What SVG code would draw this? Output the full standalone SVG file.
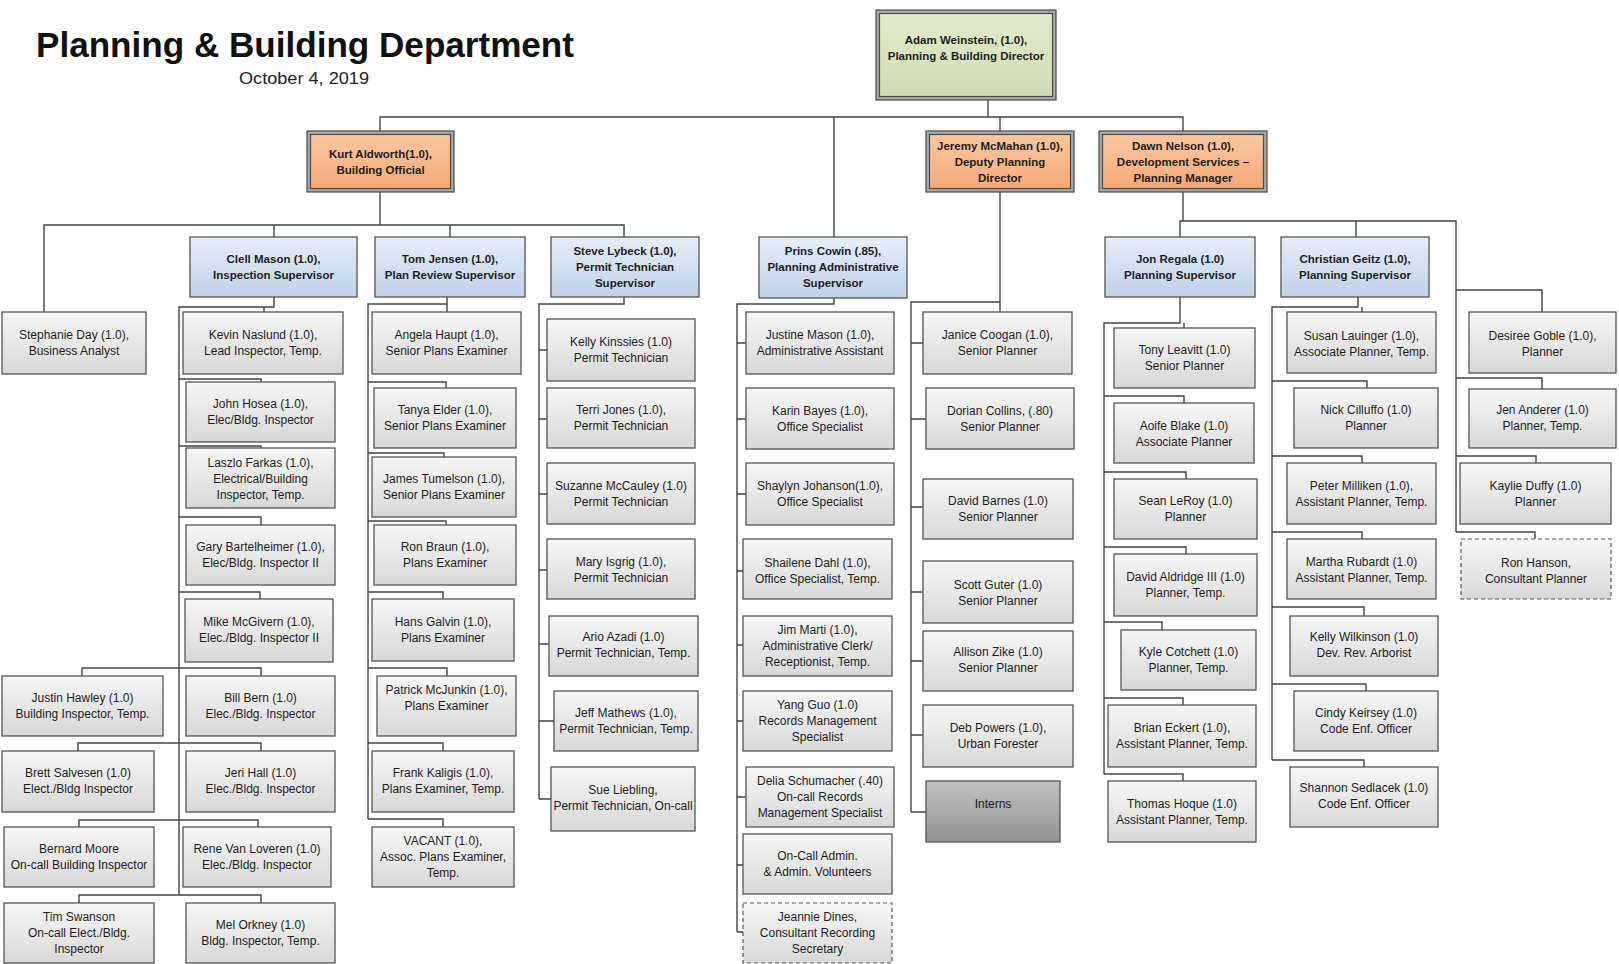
<svg xmlns="http://www.w3.org/2000/svg" width="1619" height="964" viewBox="0 0 1619 964">
  <defs>
    <linearGradient id="gGray" x1="0" y1="0" x2="0" y2="1">
      <stop offset="0" stop-color="#f6f6f6"/>
      <stop offset="1" stop-color="#d8d8d8"/>
    </linearGradient>
    <linearGradient id="gBlue" x1="0" y1="0" x2="0" y2="1">
      <stop offset="0" stop-color="#e6eef8"/>
      <stop offset="1" stop-color="#bfd2e8"/>
    </linearGradient>
    <linearGradient id="gOrange" x1="0" y1="0" x2="0" y2="1">
      <stop offset="0" stop-color="#fbc7a0"/>
      <stop offset="1" stop-color="#f5a978"/>
    </linearGradient>
    <linearGradient id="gGreen" x1="0" y1="0" x2="0" y2="1">
      <stop offset="0" stop-color="#e0eacb"/>
      <stop offset="1" stop-color="#d0ddb2"/>
    </linearGradient>
    <linearGradient id="gDark" x1="0" y1="0" x2="0" y2="1">
      <stop offset="0" stop-color="#c2c2c2"/>
      <stop offset="1" stop-color="#929292"/>
    </linearGradient>
  </defs>
  <style>
    .box { fill: url(#gGray); stroke: #555; stroke-width: 1.3; }
    .sup { fill: url(#gBlue); stroke: #555; stroke-width: 1.3; }
    .mgr { fill: url(#gOrange); stroke: #4a4a4a; stroke-width: 1.2; }
    .dir { fill: url(#gGreen); stroke: #4a4a4a; stroke-width: 1.2; }
    .ring { fill: #a9a9a9; stroke: #4a4a4a; stroke-width: 1.2; }
    .dash { fill: url(#gGray); stroke: #555; stroke-width: 1.2; stroke-dasharray: 4 3; }
    .dark { fill: url(#gDark); stroke: #555; stroke-width: 1.3; }
    .t { font-family: "Liberation Sans", Arial, sans-serif; font-size: 12px; fill: #1e1e1e; text-anchor: middle; }
    .tb { font-family: "Liberation Sans", Arial, sans-serif; font-size: 11.5px; font-weight: bold; fill: #1e1e1e; text-anchor: middle; }
    .title { font-family: "Liberation Sans", Arial, sans-serif; font-size: 35px; font-weight: bold; fill: #111; }
    .date { font-family: "Liberation Sans", Arial, sans-serif; font-size: 17px; fill: #222; }
    #connectors path { fill: none; stroke: #444; stroke-width: 1.4; }
  </style>

  <rect width="1619" height="964" fill="#ffffff"/>

  <!-- heading -->
  <g id="heading">
    <text class="title" x="36" y="57" textLength="538" lengthAdjust="spacingAndGlyphs">Planning &amp; Building Department</text>
    <text class="date" x="239" y="84" textLength="130" lengthAdjust="spacingAndGlyphs">October 4, 2019</text>
  </g>

  <!-- reporting lines -->
  <g id="connectors">
    <!-- director level -->
    <path d="M988,100 V117 M380,131 V117 H1183 V131 M1000,117 V131 M834,117 V237"/>
    <!-- building official -->
    <path d="M380,192 V225 M44,312 V225 H624 V237 M274,225 V237 M450,225 V237"/>
    <!-- inspection -->
    <path d="M274,297 V307 H179 V895 M264,307 V312
             M179,379 H261 V382 M179,446 H261 V448 M179,517 H261 V525 M179,592 H260 V599
             M82,676 V668 H261 V676 M78,751 V743 H261 V751 M79,827 V820 H258 V827 M79,903 V895 H261 V903"/>
    <!-- plan review -->
    <path d="M447,297 V312 M447,304 H368 V819
             M368,382 H446 V388 M368,453 H444 V457 M368,521 H446 V525 M368,592 H443 V599
             M368,668 H447 V676 M368,743 H443 V751 M368,819 H443 V827"/>
    <!-- permit technicians -->
    <path d="M624,297 V304 H539 V799
             M539,350 H547 M539,419 H547 M539,494 H547 M539,570 H547 M539,644 H549 M539,721 H554 M539,799 H551"/>
    <!-- planning administration -->
    <path d="M834,298 V304 H737 V932
             M737,343 H746 M737,419 H746 M737,494 H746 M737,571 H743 M737,645 H743 M737,721 H743 M737,797 H746 M737,865 H743 M737,932 H743"/>
    <!-- deputy planning director -->
    <path d="M1000,192 V312 M1000,302 H911 V812
             M911,343 H923 M911,419 H926 M911,507 H923 M911,592 H923 M911,661 H923 M911,735 H923 M911,812 H926"/>
    <!-- development services -->
    <path d="M1183,192 V221 M1180,237 V221 H1456 V532 M1356,221 V237"/>
    <!-- planning supervisor (Regala) -->
    <path d="M1180,297 V323 H1104 V774 M1184,323 V328
             M1104,396 H1184 V403 M1104,472 H1186 V479 M1104,547 H1186 V554 M1104,622 H1162 V630
             M1104,698 H1183 V705 M1104,774 H1183 V781"/>
    <!-- planning supervisor (Geitz) -->
    <path d="M1358,297 V307 H1272 V760 M1362,307 V312
             M1272,381 H1367 V388 M1272,456 H1362 V463 M1272,532 H1362 V539 M1272,607 H1364 V616
             M1272,684 H1366 V691 M1272,760 H1364 V767"/>
    <!-- planners reporting to manager -->
    <path d="M1456,290 H1542 V312 M1456,378 H1542 V389 M1456,456 H1536 V463 M1456,532 H1535 V539"/>
  </g>

  <!-- director -->
  <g id="adam-weinstein">
    <rect class="ring" x="876" y="10" width="180" height="90"/>
    <rect class="dir" x="879.5" y="13.5" width="173" height="83"/>
    <text class="tb" x="966" y="44">Adam Weinstein, (1.0),</text>
    <text class="tb" x="966" y="60">Planning &amp; Building Director</text>
  </g>

  <!-- managers -->
  <g id="kurt-aldworth">
    <rect class="ring" x="307" y="131" width="147" height="61"/>
    <rect class="mgr" x="310.5" y="134.5" width="140" height="54"/>
    <text class="tb" x="380.5" y="158">Kurt Aldworth(1.0),</text>
    <text class="tb" x="380.5" y="174">Building Official</text>
  </g>
  <g id="jeremy-mcmahan">
    <rect class="ring" x="926" y="131" width="148" height="61"/>
    <rect class="mgr" x="929.5" y="134.5" width="141" height="54"/>
    <text class="tb" x="1000" y="150">Jeremy McMahan (1.0),</text>
    <text class="tb" x="1000" y="166">Deputy Planning</text>
    <text class="tb" x="1000" y="182">Director</text>
  </g>
  <g id="dawn-nelson">
    <rect class="ring" x="1099" y="131" width="168" height="61"/>
    <rect class="mgr" x="1102.5" y="134.5" width="161" height="54"/>
    <text class="tb" x="1183" y="150">Dawn Nelson (1.0),</text>
    <text class="tb" x="1183" y="166">Development Services –</text>
    <text class="tb" x="1183" y="182">Planning Manager</text>
  </g>

  <!-- building division -->
  <g id="stephanie-day">
    <rect class="box" x="2" y="312" width="144" height="62"/>
    <text class="t" x="74" y="339">Stephanie Day (1.0),</text>
    <text class="t" x="74" y="355">Business Analyst</text>
  </g>
  <g id="clell-mason">
    <rect class="sup" x="190" y="237" width="167" height="60"/>
    <text class="tb" x="273.5" y="263">Clell Mason (1.0),</text>
    <text class="tb" x="273.5" y="279">Inspection Supervisor</text>
  </g>
  <g id="tom-jensen">
    <rect class="sup" x="375" y="237" width="150" height="60"/>
    <text class="tb" x="450" y="263">Tom Jensen (1.0),</text>
    <text class="tb" x="450" y="279">Plan Review Supervisor</text>
  </g>
  <g id="steve-lybeck">
    <rect class="sup" x="551" y="237" width="148" height="60"/>
    <text class="tb" x="625" y="255">Steve Lybeck (1.0),</text>
    <text class="tb" x="625" y="271">Permit Technician</text>
    <text class="tb" x="625" y="287">Supervisor</text>
  </g>

  <!-- inspection staff -->
  <g id="kevin-naslund">
    <rect class="box" x="183" y="312" width="160" height="62"/>
    <text class="t" x="263" y="339">Kevin Naslund (1.0),</text>
    <text class="t" x="263" y="355">Lead Inspector, Temp.</text>
  </g>
  <g id="john-hosea">
    <rect class="box" x="186" y="382" width="149" height="60"/>
    <text class="t" x="260.5" y="408">John Hosea (1.0),</text>
    <text class="t" x="260.5" y="424">Elec/Bldg. Inspector</text>
  </g>
  <g id="laszlo-farkas">
    <rect class="box" x="186" y="448" width="149" height="60"/>
    <text class="t" x="260.5" y="467">Laszlo Farkas (1.0),</text>
    <text class="t" x="260.5" y="483">Electrical/Building</text>
    <text class="t" x="260.5" y="499">Inspector, Temp.</text>
  </g>
  <g id="gary-bartelheimer">
    <rect class="box" x="186" y="525" width="149" height="60"/>
    <text class="t" x="260.5" y="551">Gary Bartelheimer (1.0),</text>
    <text class="t" x="260.5" y="567">Elec/Bldg. Inspector II</text>
  </g>
  <g id="mike-mcgivern">
    <rect class="box" x="185" y="599" width="148" height="63"/>
    <text class="t" x="259" y="626">Mike McGivern (1.0),</text>
    <text class="t" x="259" y="642">Elec./Bldg. Inspector II</text>
  </g>
  <g id="justin-hawley">
    <rect class="box" x="2" y="676" width="161" height="60"/>
    <text class="t" x="82.5" y="702">Justin Hawley (1.0)</text>
    <text class="t" x="82.5" y="718">Building Inspector, Temp.</text>
  </g>
  <g id="bill-bern">
    <rect class="box" x="186" y="676" width="149" height="60"/>
    <text class="t" x="260.5" y="702">Bill Bern (1.0)</text>
    <text class="t" x="260.5" y="718">Elec./Bldg. Inspector</text>
  </g>
  <g id="brett-salvesen">
    <rect class="box" x="2" y="751" width="152" height="61"/>
    <text class="t" x="78" y="777">Brett Salvesen (1.0)</text>
    <text class="t" x="78" y="793">Elect./Bldg Inspector</text>
  </g>
  <g id="jeri-hall">
    <rect class="box" x="186" y="751" width="149" height="61"/>
    <text class="t" x="260.5" y="777">Jeri Hall (1.0)</text>
    <text class="t" x="260.5" y="793">Elec./Bldg. Inspector</text>
  </g>
  <g id="bernard-moore">
    <rect class="box" x="4" y="827" width="150" height="60"/>
    <text class="t" x="79" y="853">Bernard Moore</text>
    <text class="t" x="79" y="869">On-call Building Inspector</text>
  </g>
  <g id="rene-van-loveren">
    <rect class="box" x="183" y="827" width="148" height="60"/>
    <text class="t" x="257" y="853">Rene Van Loveren (1.0)</text>
    <text class="t" x="257" y="869">Elec./Bldg. Inspector</text>
  </g>
  <g id="tim-swanson">
    <rect class="box" x="4" y="903" width="150" height="60"/>
    <text class="t" x="79" y="921">Tim Swanson</text>
    <text class="t" x="79" y="937">On-call Elect./Bldg.</text>
    <text class="t" x="79" y="953">Inspector</text>
  </g>
  <g id="mel-orkney">
    <rect class="box" x="186" y="903" width="149" height="60"/>
    <text class="t" x="260.5" y="929">Mel Orkney (1.0)</text>
    <text class="t" x="260.5" y="945">Bldg. Inspector, Temp.</text>
  </g>

  <!-- plan review staff -->
  <g id="angela-haupt">
    <rect class="box" x="372" y="312" width="149" height="62"/>
    <text class="t" x="446.5" y="339">Angela Haupt (1.0),</text>
    <text class="t" x="446.5" y="355">Senior Plans Examiner</text>
  </g>
  <g id="tanya-elder">
    <rect class="box" x="374" y="388" width="142" height="60"/>
    <text class="t" x="445" y="414">Tanya Elder (1.0),</text>
    <text class="t" x="445" y="430">Senior Plans Examiner</text>
  </g>
  <g id="james-tumelson">
    <rect class="box" x="372" y="457" width="144" height="60"/>
    <text class="t" x="444" y="483">James Tumelson (1.0),</text>
    <text class="t" x="444" y="499">Senior Plans Examiner</text>
  </g>
  <g id="ron-braun">
    <rect class="box" x="374" y="525" width="142" height="60"/>
    <text class="t" x="445" y="551">Ron Braun (1.0),</text>
    <text class="t" x="445" y="567">Plans Examiner</text>
  </g>
  <g id="hans-galvin">
    <rect class="box" x="372" y="599" width="142" height="62"/>
    <text class="t" x="443" y="626">Hans Galvin (1.0),</text>
    <text class="t" x="443" y="642">Plans Examiner</text>
  </g>
  <g id="patrick-mcjunkin">
    <rect class="box" x="377" y="676" width="139" height="60"/>
    <text class="t" x="446.5" y="694">Patrick McJunkin (1.0),</text>
    <text class="t" x="446.5" y="710">Plans Examiner</text>
  </g>
  <g id="frank-kaligis">
    <rect class="box" x="372" y="751" width="142" height="61"/>
    <text class="t" x="443" y="777">Frank Kaligis (1.0),</text>
    <text class="t" x="443" y="793">Plans Examiner, Temp.</text>
  </g>
  <g id="vacant-assoc-plans-examiner">
    <rect class="box" x="372" y="827" width="142" height="60"/>
    <text class="t" x="443" y="845">VACANT (1.0),</text>
    <text class="t" x="443" y="861">Assoc. Plans Examiner,</text>
    <text class="t" x="443" y="877">Temp.</text>
  </g>

  <!-- permit technicians -->
  <g id="kelly-kinssies">
    <rect class="box" x="547" y="319" width="148" height="62"/>
    <text class="t" x="621" y="346">Kelly Kinssies (1.0)</text>
    <text class="t" x="621" y="362">Permit Technician</text>
  </g>
  <g id="terri-jones">
    <rect class="box" x="547" y="388" width="148" height="60"/>
    <text class="t" x="621" y="414">Terri Jones (1.0),</text>
    <text class="t" x="621" y="430">Permit Technician</text>
  </g>
  <g id="suzanne-mccauley">
    <rect class="box" x="547" y="463" width="148" height="61"/>
    <text class="t" x="621" y="490">Suzanne McCauley (1.0)</text>
    <text class="t" x="621" y="506">Permit Technician</text>
  </g>
  <g id="mary-isgrig">
    <rect class="box" x="547" y="539" width="148" height="60"/>
    <text class="t" x="621" y="566">Mary Isgrig (1.0),</text>
    <text class="t" x="621" y="582">Permit Technician</text>
  </g>
  <g id="ario-azadi">
    <rect class="box" x="549" y="616" width="149" height="60"/>
    <text class="t" x="623.5" y="641">Ario Azadi (1.0)</text>
    <text class="t" x="623.5" y="657">Permit Technician, Temp.</text>
  </g>
  <g id="jeff-mathews">
    <rect class="box" x="554" y="691" width="144" height="60"/>
    <text class="t" x="626" y="717">Jeff Mathews (1.0),</text>
    <text class="t" x="626" y="733">Permit Technician, Temp.</text>
  </g>
  <g id="sue-liebling">
    <rect class="box" x="551" y="767" width="144" height="64"/>
    <text class="t" x="623" y="794">Sue Liebling,</text>
    <text class="t" x="623" y="810">Permit Technician, On-call</text>
  </g>

  <!-- planning administration -->
  <g id="prins-cowin">
    <rect class="sup" x="759" y="237" width="148" height="61"/>
    <text class="tb" x="833" y="255">Prins Cowin (.85),</text>
    <text class="tb" x="833" y="271">Planning Administrative</text>
    <text class="tb" x="833" y="287">Supervisor</text>
  </g>
  <g id="justine-mason">
    <rect class="box" x="746" y="312" width="148" height="62"/>
    <text class="t" x="820" y="339">Justine Mason (1.0),</text>
    <text class="t" x="820" y="355">Administrative Assistant</text>
  </g>
  <g id="karin-bayes">
    <rect class="box" x="746" y="388" width="148" height="61"/>
    <text class="t" x="820" y="415">Karin Bayes (1.0),</text>
    <text class="t" x="820" y="431">Office Specialist</text>
  </g>
  <g id="shaylyn-johanson">
    <rect class="box" x="746" y="463" width="148" height="62"/>
    <text class="t" x="820" y="490">Shaylyn Johanson(1.0),</text>
    <text class="t" x="820" y="506">Office Specialist</text>
  </g>
  <g id="shailene-dahl">
    <rect class="box" x="743" y="539" width="149" height="60"/>
    <text class="t" x="817.5" y="567">Shailene Dahl (1.0),</text>
    <text class="t" x="817.5" y="583">Office Specialist, Temp.</text>
  </g>
  <g id="jim-marti">
    <rect class="box" x="743" y="616" width="149" height="60"/>
    <text class="t" x="817.5" y="634">Jim Marti (1.0),</text>
    <text class="t" x="817.5" y="650">Administrative Clerk/</text>
    <text class="t" x="817.5" y="666">Receptionist, Temp.</text>
  </g>
  <g id="yang-guo">
    <rect class="box" x="743" y="691" width="149" height="60"/>
    <text class="t" x="817.5" y="709">Yang Guo (1.0)</text>
    <text class="t" x="817.5" y="725">Records Management</text>
    <text class="t" x="817.5" y="741">Specialist</text>
  </g>
  <g id="delia-schumacher">
    <rect class="box" x="746" y="767" width="148" height="60"/>
    <text class="t" x="820" y="785">Delia Schumacher (.40)</text>
    <text class="t" x="820" y="801">On-call Records</text>
    <text class="t" x="820" y="817">Management Specialist</text>
  </g>
  <g id="on-call-admin">
    <rect class="box" x="743" y="834" width="149" height="60"/>
    <text class="t" x="817.5" y="860">On-Call Admin.</text>
    <text class="t" x="817.5" y="876">&amp; Admin. Volunteers</text>
  </g>
  <g id="jeannie-dines">
    <rect class="dash" x="743" y="903" width="149" height="60"/>
    <text class="t" x="817.5" y="921">Jeannie Dines,</text>
    <text class="t" x="817.5" y="937">Consultant Recording</text>
    <text class="t" x="817.5" y="953">Secretary</text>
  </g>

  <!-- senior planners -->
  <g id="janice-coogan">
    <rect class="box" x="923" y="312" width="149" height="62"/>
    <text class="t" x="997.5" y="339">Janice Coogan (1.0),</text>
    <text class="t" x="997.5" y="355">Senior Planner</text>
  </g>
  <g id="dorian-collins">
    <rect class="box" x="926" y="388" width="148" height="61"/>
    <text class="t" x="1000" y="415">Dorian Collins, (.80)</text>
    <text class="t" x="1000" y="431">Senior Planner</text>
  </g>
  <g id="david-barnes">
    <rect class="box" x="923" y="479" width="150" height="60"/>
    <text class="t" x="998" y="505">David Barnes (1.0)</text>
    <text class="t" x="998" y="521">Senior Planner</text>
  </g>
  <g id="scott-guter">
    <rect class="box" x="923" y="561" width="150" height="62"/>
    <text class="t" x="998" y="589">Scott Guter (1.0)</text>
    <text class="t" x="998" y="605">Senior Planner</text>
  </g>
  <g id="allison-zike">
    <rect class="box" x="923" y="631" width="150" height="60"/>
    <text class="t" x="998" y="656">Allison Zike (1.0)</text>
    <text class="t" x="998" y="672">Senior Planner</text>
  </g>
  <g id="deb-powers">
    <rect class="box" x="923" y="705" width="150" height="62"/>
    <text class="t" x="998" y="732">Deb Powers (1.0),</text>
    <text class="t" x="998" y="748">Urban Forester</text>
  </g>
  <g id="interns">
    <rect class="dark" x="926" y="781" width="134" height="61"/>
    <text class="t" x="993" y="808">Interns</text>
  </g>

  <!-- planning supervisors -->
  <g id="jon-regala">
    <rect class="sup" x="1105" y="237" width="150" height="60"/>
    <text class="tb" x="1180" y="263">Jon Regala (1.0)</text>
    <text class="tb" x="1180" y="279">Planning Supervisor</text>
  </g>
  <g id="christian-geitz">
    <rect class="sup" x="1281" y="237" width="148" height="60"/>
    <text class="tb" x="1355" y="263">Christian Geitz (1.0),</text>
    <text class="tb" x="1355" y="279">Planning Supervisor</text>
  </g>

  <!-- Regala team -->
  <g id="tony-leavitt">
    <rect class="box" x="1114" y="328" width="141" height="60"/>
    <text class="t" x="1184.5" y="354">Tony Leavitt (1.0)</text>
    <text class="t" x="1184.5" y="370">Senior Planner</text>
  </g>
  <g id="aoife-blake">
    <rect class="box" x="1114" y="403" width="140" height="60"/>
    <text class="t" x="1184" y="430">Aoife Blake (1.0)</text>
    <text class="t" x="1184" y="446">Associate Planner</text>
  </g>
  <g id="sean-leroy">
    <rect class="box" x="1114" y="479" width="143" height="60"/>
    <text class="t" x="1185.5" y="505">Sean LeRoy (1.0)</text>
    <text class="t" x="1185.5" y="521">Planner</text>
  </g>
  <g id="david-aldridge">
    <rect class="box" x="1114" y="554" width="143" height="62"/>
    <text class="t" x="1185.5" y="581">David Aldridge III (1.0)</text>
    <text class="t" x="1185.5" y="597">Planner, Temp.</text>
  </g>
  <g id="kyle-cotchett">
    <rect class="box" x="1121" y="630" width="135" height="60"/>
    <text class="t" x="1188.5" y="656">Kyle Cotchett (1.0)</text>
    <text class="t" x="1188.5" y="672">Planner, Temp.</text>
  </g>
  <g id="brian-eckert">
    <rect class="box" x="1108" y="705" width="148" height="62"/>
    <text class="t" x="1182" y="732">Brian Eckert (1.0),</text>
    <text class="t" x="1182" y="748">Assistant Planner, Temp.</text>
  </g>
  <g id="thomas-hoque">
    <rect class="box" x="1108" y="781" width="148" height="61"/>
    <text class="t" x="1182" y="808">Thomas Hoque (1.0)</text>
    <text class="t" x="1182" y="824">Assistant Planner, Temp.</text>
  </g>

  <!-- Geitz team -->
  <g id="susan-lauinger">
    <rect class="box" x="1287" y="312" width="149" height="61"/>
    <text class="t" x="1361.5" y="340">Susan Lauinger (1.0),</text>
    <text class="t" x="1361.5" y="356">Associate Planner, Temp.</text>
  </g>
  <g id="nick-cilluffo">
    <rect class="box" x="1294" y="388" width="144" height="60"/>
    <text class="t" x="1366" y="414">Nick Cilluffo (1.0)</text>
    <text class="t" x="1366" y="430">Planner</text>
  </g>
  <g id="peter-milliken">
    <rect class="box" x="1287" y="463" width="149" height="61"/>
    <text class="t" x="1361.5" y="490">Peter Milliken (1.0),</text>
    <text class="t" x="1361.5" y="506">Assistant Planner, Temp.</text>
  </g>
  <g id="martha-rubardt">
    <rect class="box" x="1287" y="539" width="149" height="60"/>
    <text class="t" x="1361.5" y="566">Martha Rubardt (1.0)</text>
    <text class="t" x="1361.5" y="582">Assistant Planner, Temp.</text>
  </g>
  <g id="kelly-wilkinson">
    <rect class="box" x="1290" y="616" width="148" height="60"/>
    <text class="t" x="1364" y="641">Kelly Wilkinson (1.0)</text>
    <text class="t" x="1364" y="657">Dev. Rev. Arborist</text>
  </g>
  <g id="cindy-keirsey">
    <rect class="box" x="1294" y="691" width="144" height="60"/>
    <text class="t" x="1366" y="717">Cindy Keirsey (1.0)</text>
    <text class="t" x="1366" y="733">Code Enf. Officer</text>
  </g>
  <g id="shannon-sedlacek">
    <rect class="box" x="1290" y="767" width="148" height="60"/>
    <text class="t" x="1364" y="792">Shannon Sedlacek (1.0)</text>
    <text class="t" x="1364" y="808">Code Enf. Officer</text>
  </g>

  <!-- planners reporting to the manager -->
  <g id="desiree-goble">
    <rect class="box" x="1469" y="312" width="147" height="61"/>
    <text class="t" x="1542.5" y="340">Desiree Goble (1.0),</text>
    <text class="t" x="1542.5" y="356">Planner</text>
  </g>
  <g id="jen-anderer">
    <rect class="box" x="1469" y="389" width="147" height="59"/>
    <text class="t" x="1542.5" y="414">Jen Anderer (1.0)</text>
    <text class="t" x="1542.5" y="430">Planner, Temp.</text>
  </g>
  <g id="kaylie-duffy">
    <rect class="box" x="1460" y="463" width="151" height="61"/>
    <text class="t" x="1535.5" y="490">Kaylie Duffy (1.0)</text>
    <text class="t" x="1535.5" y="506">Planner</text>
  </g>
  <g id="ron-hanson">
    <rect class="dash" x="1461" y="539" width="150" height="60"/>
    <text class="t" x="1536" y="567">Ron Hanson,</text>
    <text class="t" x="1536" y="583">Consultant Planner</text>
  </g>
</svg>
